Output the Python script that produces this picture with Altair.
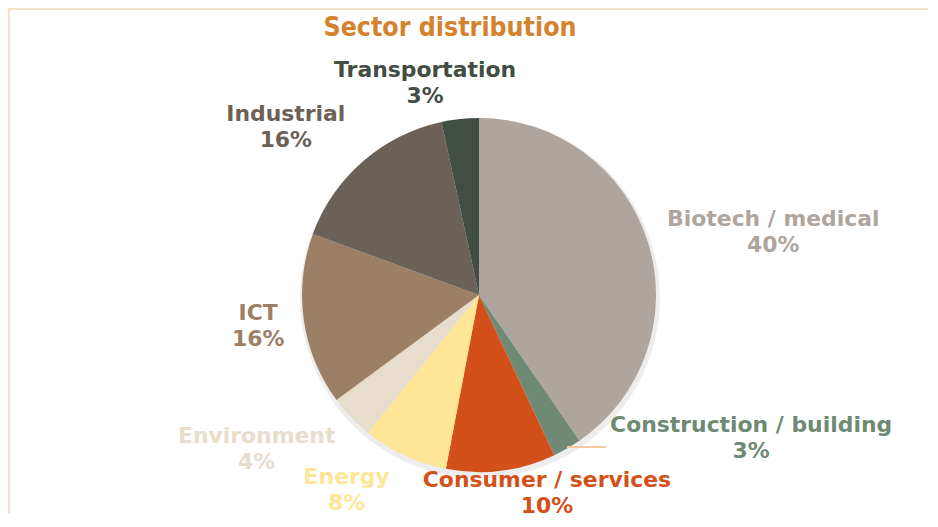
import altair as alt
import pandas as pd

sectors = ["Biotech / medical", "Construction / building", "Consumer / services", "Energy",
           "Environment", "ICT", "Industrial", "Transportation"]
shares = [40.4, 2.6, 10.0, 7.8, 4.1, 15.7, 16.0, 3.4]
colors = ["#ADA59E", "#6F8A74", "#D4501A", "#FFE596", "#E8DDCD", "#9B8066", "#6B6157", "#424D43"]

df = pd.DataFrame({"sector": sectors, "share": shares, "order": list(range(len(sectors)))})
df["label"] = df.apply(lambda r: f"{r['sector']}\n{round(r['share']):d}%", axis=1)

W, H = 920, 506
CX, CY, R = 471, 287, 177
LABEL_R = 215
LINE_H = 26
# pixel nudges of the labels from their anchor on the slice's mid-angle (layout only)
nudges = {
    "Biotech / medical": (89, 1),
    "Construction / building": (165, -43),
    "Consumer / services": (41, -15),
    "Energy": (-42, 0),
    "Environment": (-67, 5),
    "ICT": (-8, 1),
    "Industrial": (-52, -6),
    "Transportation": (-31, 2),
}

base = alt.Chart(df)
color_scale = alt.Scale(domain=sectors, range=colors)

shadow = base.mark_arc(outerRadius=R + 3, color="#999999", opacity=0.18).encode(
    theta=alt.Theta("share:Q", stack=True),
    order=alt.Order("order:Q"),
    x=alt.value(CX + 1), y=alt.value(CY + 3),
)

pie = base.mark_arc(outerRadius=R).encode(
    theta=alt.Theta("share:Q", stack=True),
    order=alt.Order("order:Q"),
    color=alt.Color("sector:N", scale=color_scale, legend=None),
    x=alt.value(CX), y=alt.value(CY),
)

layers = [shadow, pie]
for s in sectors:
    dx, dy = nudges[s]
    t = base.mark_text(font="DejaVu Sans", fontWeight="bold", fontSize=21.9, lineHeight=LINE_H,
                       lineBreak="\n", align="center", baseline="middle",
                       dx=dx, dy=dy - LINE_H / 2).encode(
        theta=alt.Theta("share:Q", stack=True),
        order=alt.Order("order:Q"),
        radius=alt.value(LABEL_R),
        text="label:N",
        color=alt.Color("sector:N", scale=color_scale, legend=None),
        x=alt.value(CX), y=alt.value(CY),
        opacity=alt.condition(alt.datum.sector == s, alt.value(1), alt.value(0)),
    )
    layers.append(t)

leader = alt.Chart(pd.DataFrame({"a": [0]})).mark_rule(color="#F2C9A0", strokeWidth=2).encode(
    x=alt.value(559), x2=alt.value(598), y=alt.value(439)
)
frame_top = alt.Chart(pd.DataFrame({"a": [0]})).mark_rule(color="#F6DFC7", strokeWidth=2).encode(
    x=alt.value(0), x2=alt.value(W), y=alt.value(1)
)
frame_left = alt.Chart(pd.DataFrame({"a": [0]})).mark_rule(color="#F6DFC7", strokeWidth=2).encode(
    x=alt.value(1), y=alt.value(0), y2=alt.value(H)
)
title = alt.Chart(pd.DataFrame({"t": ["Sector distribution"]})).mark_text(
    font="DejaVu Sans Condensed, DejaVu Sans", fontWeight="bold", fontSize=26.5,
    color="#D5822E", align="center", baseline="middle"
).encode(text="t:N", x=alt.value(442), y=alt.value(20))

chart = alt.layer(*layers, leader, frame_top, frame_left, title).properties(
    width=W, height=H, padding=0, autosize=alt.AutoSizeParams(type="none")
).configure_view(stroke=None)

chart.save("out.html", embed_options={"renderer": "svg", "actions": False})
